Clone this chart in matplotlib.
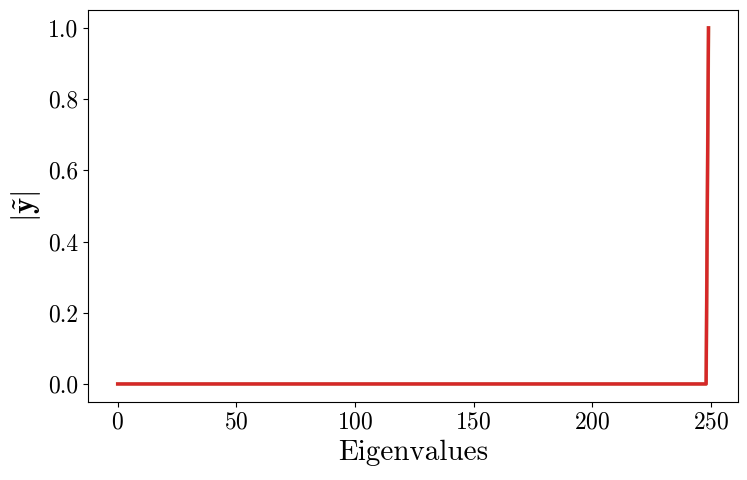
import numpy as np
import matplotlib
matplotlib.use('Agg')
import matplotlib.pyplot as plt

plt.rcParams['font.family'] = 'serif'
plt.rcParams['font.serif'] = ['cmr10']
plt.rcParams['mathtext.fontset'] = 'cm'
plt.rcParams['axes.formatter.use_mathtext'] = True

# |y~| per eigenvalue index: zero everywhere except the last one
n_eig = 250
y_abs = [0.0] * (n_eig - 1) + [1.0]
x_idx = np.arange(n_eig)

fig, ax = plt.subplots(figsize=(7.47, 4.8), dpi=100)
ax.plot(x_idx, y_abs, color='#c8a07a', linewidth=2.6)
ax.plot(x_idx, y_abs, color='#d62728', linewidth=2.4)

ax.set_xlabel('Eigenvalues', fontsize=21)
ax.set_ylabel(r'$|\tilde{\mathbf{y}}|$', fontsize=22)
ax.set_xticks([0, 50, 100, 150, 200, 250])
ax.set_yticks([0.0, 0.2, 0.4, 0.6, 0.8, 1.0])
ax.set_yticklabels(['0.0', '0.2', '0.4', '0.6', '0.8', '1.0'])
ax.tick_params(labelsize=17)

fig.subplots_adjust(left=0.118, right=0.988, top=0.979, bottom=0.163)
fig.savefig('out.png', dpi=100)
